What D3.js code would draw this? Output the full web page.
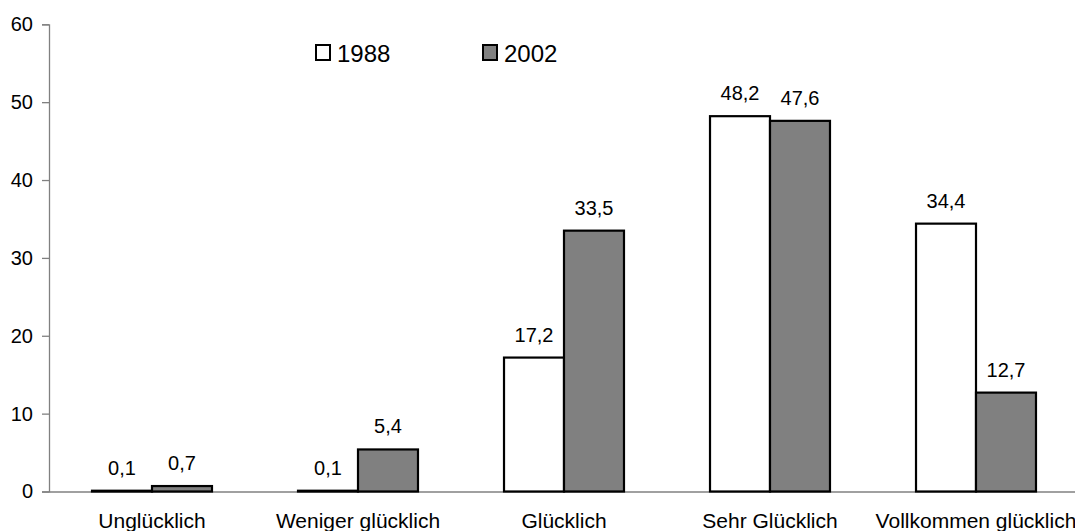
<!DOCTYPE html>
<html>
<head>
<meta charset="utf-8">
<script src="https://cdn.jsdelivr.net/npm/d3@7"></script>
<style>
  html, body { margin: 0; padding: 0; background: #fff; }
  svg { display: block; font-family: "Liberation Sans", Arial, sans-serif; }
</style>
</head>
<body>
<svg id="chart" width="1075" height="531"></svg>
<script>
const categories = ["Unglücklich", "Weniger glücklich", "Glücklich", "Sehr Glücklich", "Vollkommen glücklich"];
const seriesNames = ["1988", "2002"];
const values1988 = [0.1, 0.1, 17.2, 48.2, 34.4];
const values2002 = [0.7, 5.4, 33.5, 47.6, 12.7];
const yTicks = [0, 10, 20, 30, 40, 50, 60];
const seriesFill = ["#ffffff", "#808080"];

const svg = d3.select("#chart");
const plotLeft = 49, plotRight = 1079, plotTop = 24.3, plotBottom = 491.5;

const x = d3.scaleBand().domain(categories).range([plotLeft, plotRight]).paddingInner(0).paddingOuter(0);
const x1 = d3.scaleBand().domain(seriesNames).range([0, x.bandwidth()]).paddingInner(0).paddingOuter(0.717);
const y = d3.scaleLinear().domain([0, 60]).range([plotBottom, plotTop]);

const fmt = v => String(v.toFixed(1)).replace(".", ",");

// Y axis
const yAxis = d3.axisLeft(y).tickValues(yTicks).tickSize(7).tickPadding(9).tickFormat(d3.format("d"));
const gy = svg.append("g").attr("transform", `translate(${plotLeft},0)`).call(yAxis);
gy.attr("font-family", null).attr("font-size", null);
gy.select(".domain").attr("stroke", "#808080").attr("stroke-width", 1.3);
gy.selectAll(".tick line").attr("stroke", "#808080").attr("stroke-width", 1.3);
gy.selectAll(".tick text").attr("font-size", 20).attr("fill", "#000");

// X axis line
const xAxis = d3.axisBottom(x).tickSize(0).tickPadding(0).tickFormat("");
const gx = svg.append("g").attr("transform", `translate(0,${plotBottom})`).call(xAxis);
gx.select(".domain").attr("stroke", "#808080").attr("stroke-width", 1.3);

// Category labels
svg.append("g").selectAll("text").data(categories).join("text")
  .attr("x", d => x(d) + x.bandwidth() / 2)
  .attr("y", 528)
  .attr("text-anchor", "middle")
  .attr("font-size", 21)
  .attr("fill", "#000")
  .text(d => d);

// Bars
const rows = categories.map((c, i) => ({ cat: c, vals: [values1988[i], values2002[i]] }));
const groups = svg.append("g").selectAll("g").data(rows).join("g")
  .attr("transform", d => `translate(${x(d.cat)},0)`);

groups.selectAll("rect").data(d => d.vals.map((v, j) => ({ s: seriesNames[j], v, j }))).join("rect")
  .attr("x", d => x1(d.s))
  .attr("width", x1.bandwidth())
  .attr("y", d => y(d.v))
  .attr("height", d => Math.max(0.5, y(0) - y(d.v)))
  .attr("fill", d => seriesFill[d.j])
  .attr("stroke", "#000")
  .attr("stroke-width", 2.2);

groups.selectAll("text").data(d => d.vals.map((v, j) => ({ s: seriesNames[j], v, j }))).join("text")
  .attr("x", d => x1(d.s) + x1.bandwidth() / 2)
  .attr("y", d => y(d.v) - 16)
  .attr("text-anchor", "middle")
  .attr("font-size", 20)
  .attr("fill", "#000")
  .text(d => fmt(d.v));

// Legend
const legendX = [316, 483];
const lg = svg.append("g").selectAll("g").data(seriesNames).join("g")
  .attr("transform", (d, i) => `translate(${legendX[i]},45)`);
lg.append("rect").attr("x", 0).attr("y", 0).attr("width", 14).attr("height", 15)
  .attr("fill", (d, i) => seriesFill[i]).attr("stroke", "#000").attr("stroke-width", 2);
lg.append("text").attr("x", 21).attr("y", 16.5).attr("font-size", 24).attr("fill", "#000").text(d => d);
</script>
</body>
</html>
